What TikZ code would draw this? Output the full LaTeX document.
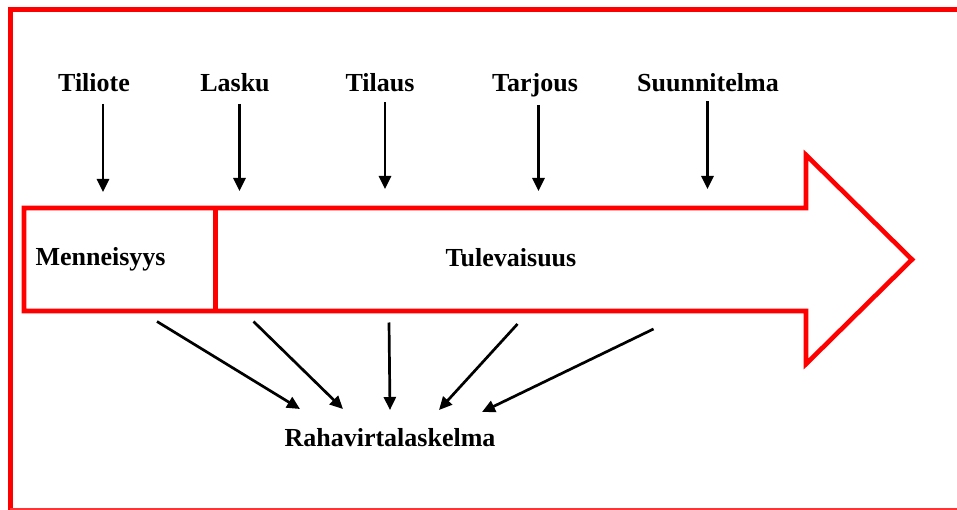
\documentclass[tikz,border=0pt]{standalone}
\usepackage{fontspec}
\setmainfont{Liberation Serif}
\usetikzlibrary{arrows.meta}
\begin{document}
\begin{tikzpicture}[x=1pt,y=-1pt,
  lbl/.style={font=\fontsize{26}{30}\selectfont\bfseries, inner sep=0pt, anchor=base},
  redline/.style={draw=red, line width=4.6pt},
  arr/.style={draw=black, line width=2.7pt, -{Triangle[length=13pt,width=12pt]}}]
\useasboundingbox (0,0) rectangle (957,510);
% frame
\draw[red, line width=4.5pt] (957,9.5) -- (10.5,9.5) -- (10.5,510);
\draw[red!80, line width=1.2pt] (10,509) -- (957,509);
% big arrow
\draw[redline, line join=miter] (24,208) -- (806,208) -- (806,155) -- (912,259.5) -- (806,364) -- (806,311) -- (24,311) -- cycle;
\draw[redline] (215.5,208) -- (215.5,311);
% labels
\node[lbl] (tiliote) at (94,92) {Tiliote};
\node[lbl] (lasku) at (235,92) {Lasku};
\node[lbl] (tilaus) at (380,92) {Tilaus};
\node[lbl] (tarjous) at (535,92) {Tarjous};
\node[lbl] (suun) at (708,92) {Suunnitelma};
\node[lbl] (menn) at (100.5,265.5) {Menneisyys};
\node[lbl] (tule) at (511,266.5) {Tulevaisuus};
\node[lbl] (raha) at (390,446) {Rahavirtalaskelma};
% top arrow coordinates
\coordinate (t1s) at (103,104); \coordinate (t1e) at (103,192);
\coordinate (t2s) at (239.5,104); \coordinate (t2e) at (239.5,191);
\coordinate (t3s) at (385,102.5); \coordinate (t3e) at (385,189);
\coordinate (t4s) at (538.5,105); \coordinate (t4e) at (538.5,191);
\coordinate (t5s) at (707.5,101.5); \coordinate (t5e) at (707.5,189);
\foreach \i in {1,...,5} \draw[arr] (t\i s) -- (t\i e);
% bottom arrows
\coordinate (b1s) at (157,321.5); \coordinate (b1e) at (300,409);
\coordinate (b2s) at (253.5,321.5); \coordinate (b2e) at (343,409);
\coordinate (b3s) at (389,322.5); \coordinate (b3e) at (390,410);
\coordinate (b4s) at (517.5,324); \coordinate (b4e) at (439,410);
\coordinate (b5s) at (653.5,329); \coordinate (b5e) at (482,412);
\foreach \i in {1,...,5} \draw[arr] (b\i s) -- (b\i e);
\end{tikzpicture}
\end{document}
